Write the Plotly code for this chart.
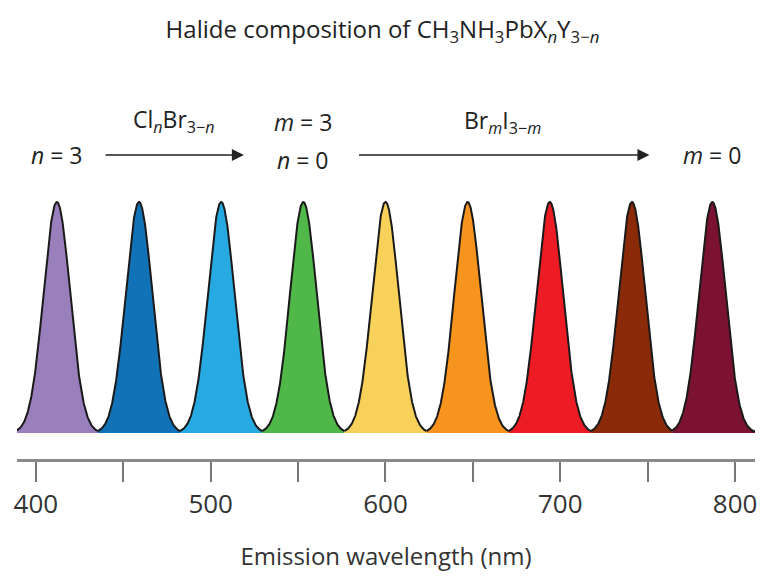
import numpy as np
import plotly.graph_objects as go

# Data
peak_centers = [412, 459, 506, 553, 600, 647, 694, 741, 787]  # nm
peak_colors = ["#9a7fbd", "#1272b8", "#27a9e1", "#4fb848", "#f8d15b",
               "#f7941d", "#ed1c24", "#8b2a08", "#7b1232"]
peak_sigma = 7.6
tick_vals = [400, 450, 500, 550, 600, 650, 700, 750, 800]
tick_text = ["400", "", "500", "", "600", "", "700", "", "800"]
x_range = [389.2, 811.4]

FONT = "Open Sans, sans-serif"

fig = go.Figure()

edges = [x_range[0]] + [(a + b) / 2 for a, b in zip(peak_centers[:-1], peak_centers[1:])] + [x_range[1]]
for i, (c, col) in enumerate(zip(peak_centers, peak_colors)):
    x = np.linspace(edges[i], edges[i + 1], 300)
    y = np.exp(-0.5 * ((x - c) / peak_sigma) ** 2)
    fig.add_trace(go.Scatter(x=x, y=y, mode="lines", fill="tozeroy",
                             fillcolor=col, line=dict(color="#1a1a1a", width=2),
                             hoverinfo="skip", showlegend=False))

H = 579
plot_bottom = 459
plot_top = 100
def py(p):
    return (plot_bottom - p) / (plot_bottom - plot_top)

annos = []
def txt(x, ypx, s, size=23):
    annos.append(dict(x=x, xref="x", y=py(ypx), yref="paper", text=s, showarrow=False,
                      font=dict(family=FONT, size=size, color="#222222"),
                      xanchor="center", yanchor="middle"))

txt(peak_centers[0], 155, "<i>n</i> = 3")
txt(479, 120, "Cl<sub><i>n</i></sub>Br<sub>3−<i>n</i></sub>")
txt(peak_centers[3], 122, "<i>m</i> = 3")
txt(peak_centers[3], 160, "<i>n</i> = 0")
txt(667, 122, "Br<sub><i>m</i></sub>I<sub>3−<i>m</i></sub>")
txt(peak_centers[8], 155, "<i>m</i> = 0")

for x0, x1 in [(439, 519), (584, 751)]:
    annos.append(dict(x=x1, xref="x", y=py(155), yref="paper", ax=x0, axref="x",
                      ay=0, ayref="pixel", text="", showarrow=True,
                      arrowhead=2, arrowsize=1.5, arrowwidth=1.6, arrowcolor="#222222"))

fig.update_layout(
    width=765, height=579,
    margin=dict(l=17, r=8, t=plot_top, b=H - plot_bottom),
    paper_bgcolor="white", plot_bgcolor="white",
    title=dict(text="Halide composition of CH<sub>3</sub>NH<sub>3</sub>PbX<sub><i>n</i></sub>Y<sub>3−<i>n</i></sub>",
               x=0.5, xanchor="center", y=1 - 30 / H, yanchor="middle",
               font=dict(family=FONT, size=24, color="#222222")),
    annotations=annos,
    xaxis=dict(range=x_range, tickvals=tick_vals, ticktext=tick_text,
               showline=True, linecolor="#8a8a8a", linewidth=3,
               ticks="outside", ticklen=20, tickwidth=1.5, tickcolor="#777777",
               showgrid=False, zeroline=False,
               tickfont=dict(family=FONT, size=26, color="#333333"),
               title=dict(text="Emission wavelength (nm)", standoff=28,
                          font=dict(family=FONT, size=24, color="#333333"))),
    yaxis=dict(range=[-0.1126, 1.4415], visible=False, showgrid=False, zeroline=False),
)

fig.write_html("out.html")
